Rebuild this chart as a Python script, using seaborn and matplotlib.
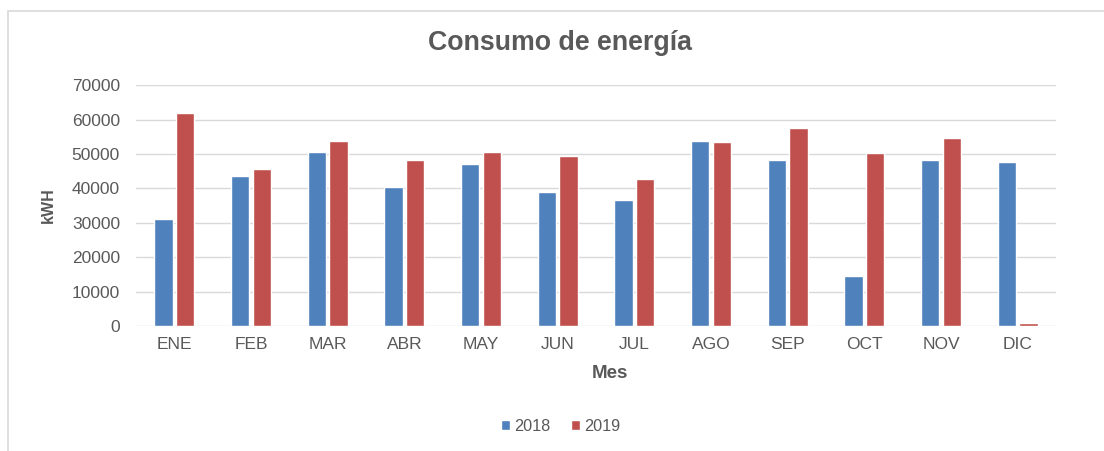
import matplotlib
matplotlib.use("Agg")
import matplotlib.pyplot as plt
import seaborn as sns
import pandas as pd
from matplotlib.patches import Rectangle

months = ["ENE", "FEB", "MAR", "ABR", "MAY", "JUN", "JUL", "AGO", "SEP", "OCT", "NOV", "DIC"]
values_2018 = [31100, 43500, 50700, 40300, 47100, 38900, 36700, 53900, 48400, 14500, 48400, 47700]
values_2019 = [62000, 45700, 53800, 48400, 50700, 49300, 42700, 53500, 57500, 50200, 54700, 900]
years = ["2018", "2019"]

df = pd.DataFrame({
    "Mes": months * 2,
    "kWH": values_2018 + values_2019,
    "Año": [years[0]] * len(months) + [years[1]] * len(months),
})

sns.set_theme(style="white")
plt.rcParams["font.family"] = ["Liberation Sans", "DejaVu Sans"]

txt = "#595959"
fig = plt.figure(figsize=(11.04, 4.51), dpi=100)
ax = fig.add_axes([0.1232, 0.277, 0.8333, 0.534])

sns.barplot(data=df, x="Mes", y="kWH", hue="Año", order=months,
            palette=["#4F81BD", "#C0504D"], width=0.56, gap=0.15,
            ax=ax, saturation=1, legend=True)

ax.set_ylim(0, 70000)
ax.set_yticks(range(0, 70001, 10000))
ax.yaxis.grid(True, color="#D9D9D9", linewidth=1)
ax.set_axisbelow(True)
for s in ax.spines.values():
    s.set_visible(False)
ax.tick_params(axis="y", colors=txt, labelsize=12.5, length=0, pad=11.5)
ax.tick_params(axis="x", colors=txt, labelsize=12.5, length=0, pad=8)
for lab in ax.get_xticklabels() + ax.get_yticklabels():
    lab.set_color(txt)
ax.set_xlim(-0.5, 11.5)

ax.set_xlabel("")
ax.set_ylabel("")
fig.text(610 / 1104, 1 - 373 / 451, "Mes", ha="center", va="center",
         fontsize=13.5, fontweight="bold", color=txt)
fig.text(48 / 1104, 1 - 205 / 451, "kWH", ha="center", va="center", rotation=90,
         fontsize=11.5, fontweight="bold", color=txt)

fig.text(0.507, 0.905, "Consumo de energía", ha="center", va="center",
         fontsize=19.3, fontweight="bold", color=txt)

handles, labels = ax.get_legend_handles_labels()
ax.get_legend().remove()
leg = fig.legend(handles, labels, loc="center", bbox_to_anchor=(0.508, 0.055), ncol=2,
                 frameon=False, fontsize=11.7, handlelength=0.55, handleheight=0.55,
                 handletextpad=0.25, columnspacing=1.3)
for t in leg.get_texts():
    t.set_color(txt)

fig.patches.append(Rectangle((0.007, -0.05), 1.2, 1.026, transform=fig.transFigure,
                             fill=False, edgecolor="#D9D9D9", linewidth=1.2))

fig.savefig("out.png", dpi=100)
